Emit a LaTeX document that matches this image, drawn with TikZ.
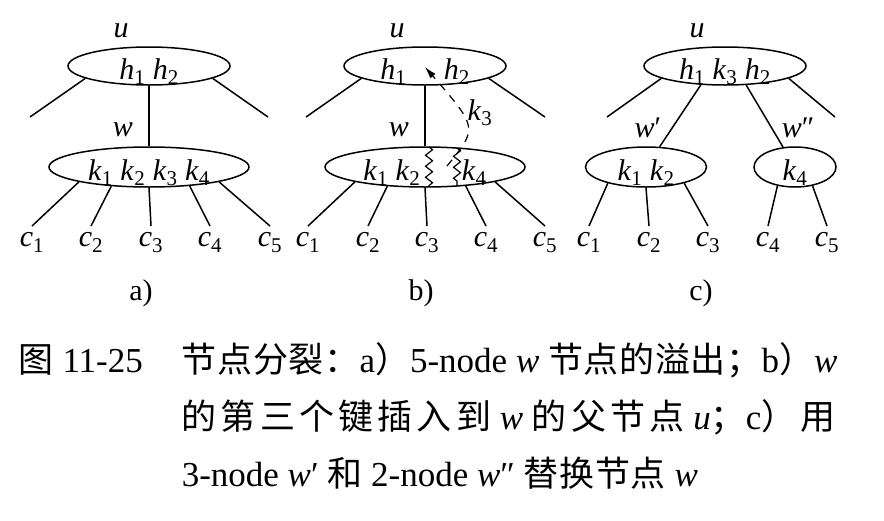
\documentclass[tikz,border=0pt]{standalone}
\usepackage{fontspec}
\setmainfont{Liberation Serif}
\newfontfamily\cjk[LetterSpace=2]{Noto Sans CJK SC}
\newfontfamily\cjkwide[LetterSpace=12]{Noto Sans CJK SC}
\usetikzlibrary{shapes.geometric}
\usetikzlibrary{decorations.pathmorphing}
\usetikzlibrary{arrows.meta}
\newcommand{\varsub}[2]{\textit{#1}\textsubscript{#2}}

\begin{document}
\begin{tikzpicture}[x=1pt, y=-1pt, line width=1.5pt, font=\fontsize{30}{36}\selectfont]
			\tikzstyle{keynode}=[ellipse, draw, inner sep=0pt, text height=26pt, text depth=0pt]
			\tikzstyle{leaf}=[inner sep=6pt, anchor=north]
			\tikzstyle{split}=[decorate, decoration={zigzag, segment length=11pt, amplitude=3.5pt}, line width=1.2pt]
			\tikzstyle{caption}=[anchor=base west, inner sep=0pt, font=\fontsize{35}{40}\selectfont]
			
			\useasboundingbox (0,0) rectangle (884,520);
			
			% Panel a: overflow of w
			\node[keynode, minimum width=162pt, minimum height=38pt] (au) at (149,66) {\varsub{h}{1}~\varsub{h}{2}};
			\node[keynode, minimum width=200pt, minimum height=40pt] (aw) at (149,167) {\varsub{k}{1}~\varsub{k}{2}~\varsub{k}{3}~\varsub{k}{4}};
			\node (aulabel) at (121,31) {\textit{u}};
			\node (awlabel) at (123,130) {\textit{w}};
			\coordinate (aleft) at (30,117);
			\coordinate (aright) at (268,117);
			\draw (au.191) -- (aleft);
			\draw (au.349) -- (aright);
			\draw (au.south) -- (aw.north);
			\foreach \i/\x in {1/32,2/91,3/151,4/210,5/270}
				\node[leaf] (ac\i) at (\x,226) {\varsub{c}{\i}};
			\foreach \i/\ang in {1/192,2/207,3/270,4/335,5/348}
				\draw (aw.\ang) -- (ac\i.north);
			\node (acap) at (141,293) {a)};
			
			% Panel b: k3 moves up to u
			\node[keynode, minimum width=162pt, minimum height=38pt] (bu) at (425,66) {\varsub{h}{1}~\hspace{30pt}\varsub{h}{2}};
			\node[keynode, minimum width=200pt, minimum height=40pt] (bw) at (425,167) {\varsub{k}{1}~\varsub{k}{2}~\hspace{34pt}\varsub{k}{4}};
			\node (bulabel) at (397,31) {\textit{u}};
			\node (bwlabel) at (399,130) {\textit{w}};
			\node (bk) at (480,113) {\varsub{k}{3}};
			\coordinate (bleft) at (306,117);
			\coordinate (bright) at (545,117);
			\draw (bu.191) -- (bleft);
			\draw (bu.349) -- (bright);
			\draw (bu.south) -- (bw.north);
			\foreach \i/\x in {1/308,2/368,3/427,4/486,5/545}
				\node[leaf] (bc\i) at (\x,226) {\varsub{c}{\i}};
			\foreach \i/\ang in {1/192,2/207,3/270,4/335,5/348}
				\draw (bw.\ang) -- (bc\i.north);
			\coordinate (cuta1) at (429,147);
			\coordinate (cuta2) at (429,186);
			\coordinate (cutb1) at (457,148);
			\coordinate (cutb2) at (457,186);
			\draw[split] (cuta1) -- (cuta2);
			\draw[split] (cutb1) -- (cutb2);
			\coordinate (kfrom) at (447,166);
			\coordinate (kto) at (425,67);
			\draw[line width=1.2pt, dash pattern=on 8pt off 7pt, -{Latex[length=12pt,width=7pt]}] (kfrom) .. controls (478,128) .. (kto);
			\node (bcap) at (421,293) {b)};
			
			% Panel c: w replaced by w' and w''
			\node[keynode, minimum width=162pt, minimum height=38pt] (cu) at (725,66) {\varsub{h}{1}~\varsub{k}{3}~\varsub{h}{2}};
			\node[keynode, minimum width=121pt, minimum height=40pt] (cwl) at (646,167) {\varsub{k}{1}~\varsub{k}{2}};
			\node[keynode, minimum width=82pt, minimum height=40pt] (cwr) at (795,167) {\varsub{k}{4}};
			\node (culabel) at (697,31) {\textit{u}};
			\node (cwllabel) at (648,128) {\textit{w}′};
			\node (cwrlabel) at (798,128) {\textit{w}″};
			\coordinate (cleft) at (607,117);
			\coordinate (cright) at (835,117);
			\draw (cu.191) -- (cleft);
			\draw (cu.349) -- (cright);
			\draw (cu.218) -- (cwl.56);
			\draw (cu.318) -- (cwr.121);
			\foreach \i/\x in {1/589,2/649,3/708,4/768,5/827}
				\node[leaf] (cc\i) at (\x,226) {\varsub{c}{\i}};
			\foreach \i/\ang in {1/203,2/270,3/337}
				\draw (cwl.\ang) -- (cc\i.north);
			\draw (cwr.227) -- (cc4.north);
			\draw (cwr.313) -- (cc5.north);
			\node (ccap) at (701,293) {c)};
			
			% Caption
			\node[caption] (fignum) at (18,372) {{\cjk 图} 11-25};
			\node[caption] (line1) at (181,372) {{\cjk 节点分裂：}a{\cjk ）}5-node \textit{w} {\cjk 节点的溢出；}b{\cjk ）}\textit{w}};
			\node[caption] (line2) at (181,429) {{\cjkwide 的第三个键插入到} \textit{w} {\cjkwide 的父节点} \textit{u}{\cjkwide ；}c{\cjkwide ）用}};
			\node[caption] (line3) at (181,486) {3-node \textit{w}′ {\cjk 和} 2-node \textit{w}″ {\cjk 替换节点} \textit{w}};
			
		\end{tikzpicture}
\end{document}
